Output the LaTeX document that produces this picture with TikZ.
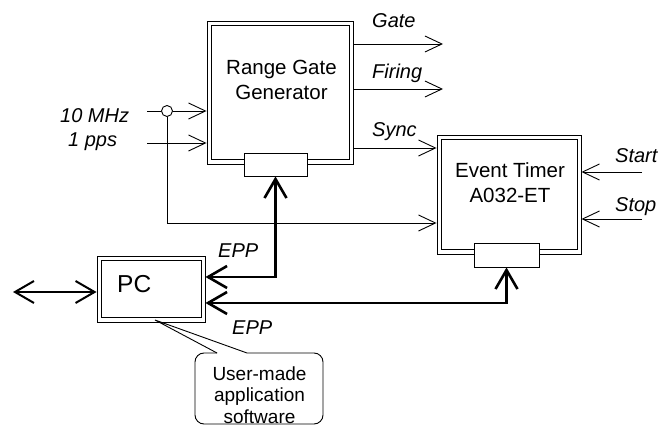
\documentclass[tikz,border=0pt]{standalone}
\usepackage{fontspec}
\setmainfont{Liberation Sans}
\usetikzlibrary{arrows.meta}
\begin{document}
\begin{tikzpicture}[x=1pt,y=-1pt,>={Straight Barb[length=17pt,width=16pt]},
 sig/.style={line width=0.9pt},
 bus/.style={line width=2.6pt,>={Straight Barb[length=19pt,width=22pt]}},
 block/.style={draw,line width=0.9pt,inner sep=0pt},
 port/.style={draw,fill=white,line width=0.9pt,inner sep=0pt},
 lab/.style={font=\fontsize{20}{24}\selectfont\itshape,inner sep=0pt,anchor=base west},
 txt/.style={font=\fontsize{20.5}{25}\selectfont,align=center,inner sep=0pt}]
\useasboundingbox (0,0) rectangle (659,427);
\node[block,minimum width=146pt,minimum height=143pt](rgg) at (280,92.5){};
\node[block,minimum width=144pt,minimum height=119pt](et) at (509,194.5){};
\node[block,minimum width=108pt,minimum height=66pt](pc) at (151,289){};
\foreach \b in {rgg,et,pc}
 \draw[sig]([shift={(4.5pt,-4.5pt)}]\b.north west) rectangle ([shift={(-4.5pt,4.5pt)}]\b.south east);
\node[port,minimum width=63pt,minimum height=23pt](rggport) at (275.5,164.5){};
\node[port,minimum width=65pt,minimum height=24pt](etport) at (506.5,255){};
\node[draw,circle,line width=0.9pt,minimum size=11pt,inner sep=0pt](tap) at (167,111){};
\node[txt](rggtext) at (281.5,80.3){Range Gate\\Generator};
\node[txt](ettext) at (510,183){Event Timer\\A032-ET};
\node[font=\fontsize{24.5}{28}\selectfont,anchor=base west,inner sep=0pt](pctext) at (117,293){PC};
\coordinate (mhz) at (147,111);
\coordinate (pps) at (147,143);
\coordinate (gate) at (443,44);
\coordinate (firing) at (443,89);
\coordinate (sync) at (400,148);
\coordinate (turn) at (167,223);
\coordinate (start) at (642,172);
\coordinate (stop) at (642,219);
\coordinate (epp1) at (275.5,277);
\coordinate (epp2) at (506.5,303);
\coordinate (ext) at (13,292);
\draw[sig](mhz)--(tap);
\draw[sig,->](tap)--(tap-|rgg.west);
\draw[sig,->](pps)--(pps-|rgg.west);
\draw[sig,->](tap)--(turn)--(turn-|et.west);
\draw[sig,->](gate-|rgg.east)--(gate);
\draw[sig,->](firing-|rgg.east)--(firing);
\draw[sig,->](sync-|rgg.east)--(sync-|et.west);
\draw[sig,->](start)--(start-|et.east);
\draw[sig,->](stop)--(stop-|et.east);
\draw[bus,<->](rggport.south)--(epp1)--(epp1-|pc.east);
\draw[bus,<->](pc.east|-epp2)--(epp2)--(etport.south);
\draw[bus,<->,line width=2pt](ext)--(ext-|pc.west);
\node[lab](mhzlab) at (60,123){10 MHz};
\node[lab](ppslab) at (68,147){1 pps};
\node[lab](gatelab) at (372,28){Gate};
\node[lab](firinglab) at (372,79){Firing};
\node[lab](synclab) at (372,137){Sync};
\node[lab](startlab) at (615,163){Start};
\node[lab](stoplab) at (615,212){Stop};
\node[lab](epplab1) at (218,258){EPP};
\node[lab](epplab2) at (232,335){EPP};
\draw[sig](217,353)--(155,320)--(247,353);
\draw[sig,rounded corners=9pt](247,353)--(323,353)--(323,424)--(195,424)--(195,353)--(217,353);
\node[txt,font=\fontsize{19}{21.5}\selectfont](note) at (259.5,395){User-made\\application\\software};
\end{tikzpicture}
\end{document}
